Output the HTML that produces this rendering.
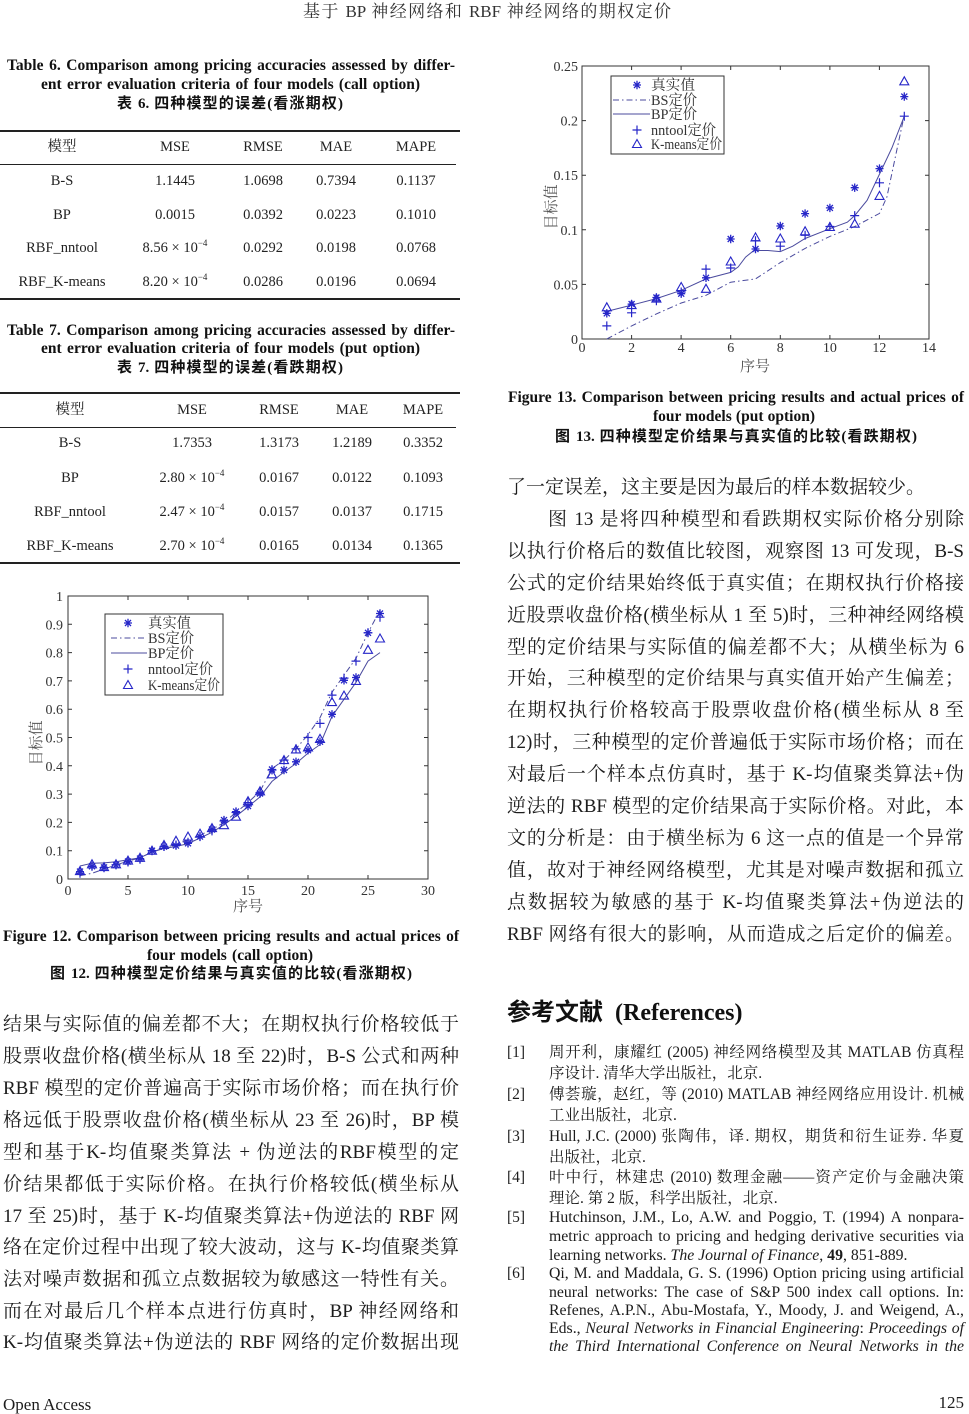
<!DOCTYPE html>
<html><head><meta charset="utf-8">
<style>
html,body{margin:0;padding:0;background:#fff;}
#pg{position:relative;width:969px;height:1414px;overflow:hidden;background:#fff;color:#1c1c1c;font-family:"Liberation Serif","Noto Serif CJK SC",serif;}
.a{position:absolute;}
.j{text-align:justify;text-align-last:justify;}
.ln{position:absolute;font-size:19px;line-height:32px;height:32px;text-align:justify;text-align-last:justify;}
.cap{position:absolute;font-family:"Liberation Serif","Noto Sans CJK SC",serif;font-weight:bold;font-size:15.5px;line-height:18px;text-align:justify;text-align-last:justify;color:#111;}
.capc{position:absolute;font-family:"Liberation Serif","Noto Sans CJK SC",sans-serif;font-weight:bold;font-size:15px;line-height:18px;text-align:justify;text-align-last:justify;color:#111;}
.c{position:absolute;width:140px;text-align:center;font-size:14.5px;line-height:20px;height:20px;color:#222;}
.rule{position:absolute;left:0;width:460px;background:#222;}
.rn{position:absolute;left:507px;font-size:15.5px;line-height:20px;}
.rt{position:absolute;left:549px;width:415px;font-size:15.5px;line-height:20px;text-align:justify;text-align-last:justify;}
.rte{font-size:15.8px;}
.nl{text-align-last:left;}
sup{font-size:9px;vertical-align:6px;line-height:0;}
</style></head><body><div id="pg">

<svg class="a" style="left:0;top:0" width="969" height="1414" viewBox="0 0 969 1414" xmlns="http://www.w3.org/2000/svg">
<defs>
<g id="st"><path d="M-4,0H4M0,-4.2V4.2M-3,-3L3,3M-3,3L3,-3" stroke="#2626c8" stroke-width="1.3" fill="none"/></g>
<g id="pl"><path d="M-4.5,0H4.5M0,-4.5V4.5" stroke="#2626c8" stroke-width="1.2" fill="none"/></g>
<g id="tr"><path d="M0,-4.5L4.5,3.5H-4.5Z" stroke="#2626c8" stroke-width="1.1" fill="none"/></g>
</defs>

<!-- ===== Figure 12 ===== -->
<g stroke="#333" stroke-width="1" fill="none">
<rect x="68" y="596" width="360" height="283"/>
<path d="M128,879V875M188,879V875M248,879V875M308,879V875M368,879V875
M128,596V600M188,596V600M248,596V600M308,596V600M368,596V600
M68,850.7H72M68,822.4H72M68,794.1H72M68,765.8H72M68,737.5H72M68,709.2H72M68,680.9H72M68,652.6H72M68,624.3H72
M428,850.7H424M428,822.4H424M428,794.1H424M428,765.8H424M428,737.5H424M428,709.2H424M428,680.9H424M428,652.6H424M428,624.3H424"/>
</g>
<g font-family="Liberation Serif, serif" font-size="14" fill="#333" text-anchor="end">
<text x="63" y="884">0</text><text x="63" y="855.7">0.1</text><text x="63" y="827.4">0.2</text><text x="63" y="799.1">0.3</text><text x="63" y="770.8">0.4</text><text x="63" y="742.5">0.5</text><text x="63" y="714.2">0.6</text><text x="63" y="685.9">0.7</text><text x="63" y="657.6">0.8</text><text x="63" y="629.3">0.9</text><text x="63" y="601">1</text>
</g>
<g font-family="Liberation Serif, serif" font-size="14" fill="#333" text-anchor="middle">
<text x="68" y="895">0</text><text x="128" y="895">5</text><text x="188" y="895">10</text><text x="248" y="895">15</text><text x="308" y="895">20</text><text x="368" y="895">25</text><text x="428" y="895">30</text>
</g>
<text x="248" y="911" font-family="Noto Serif CJK SC, serif" font-size="15" fill="#555" text-anchor="middle">序号</text>
<text transform="translate(41,743) rotate(-90)" font-family="Noto Serif CJK SC, serif" font-size="15" fill="#555" text-anchor="middle">目标值</text>

<polyline fill="none" stroke="#4b4b9e" stroke-width="1" stroke-dasharray="6,3,1.5,3" points="80,875.6 92,873.3 104,869.1 116,864.9 128,861.2 140,857.8 152,852.1 164,847.9 176,844.2 188,840.0 200,835.1 212,829.5 224,822.4 236,812.5 248,802.6 260,791.3 272,768.6 284,760.1 296,748.8 308,734.7 320,717.7 332,692.2 344,675.2 356,658.3 368,632.8 380,610.2"/>
<polyline fill="none" stroke="#4b4b9e" stroke-width="1" points="80,866.0 92,863.2 104,862.9 116,861.7 128,859.8 140,857.8 152,852.1 164,848.4 176,846.5 188,843.6 200,838.0 212,832.3 224,824.7 236,816.2 248,806.8 260,796.9 272,781.4 284,772.0 296,763.5 308,753.1 320,744.6 332,716.3 344,699.3 356,682.3 368,661.1 380,652.6"/>
<g>
<use href="#st" x="80" y="871.6"/><use href="#st" x="92" y="866.3"/><use href="#st" x="104" y="867.4"/><use href="#st" x="116" y="864.9"/><use href="#st" x="128" y="861.5"/><use href="#st" x="140" y="858.6"/><use href="#st" x="152" y="850.7"/><use href="#st" x="164" y="846.7"/><use href="#st" x="176" y="845.6"/><use href="#st" x="188" y="843.3"/><use href="#st" x="200" y="836.6"/><use href="#st" x="212" y="829.5"/><use href="#st" x="224" y="820.1"/><use href="#st" x="236" y="811.6"/><use href="#st" x="248" y="806.0"/><use href="#st" x="260" y="793.5"/><use href="#st" x="272" y="769.5"/><use href="#st" x="284" y="770.0"/><use href="#st" x="296" y="761.8"/><use href="#st" x="308" y="750.2"/><use href="#st" x="320" y="741.7"/><use href="#st" x="332" y="714.3"/><use href="#st" x="344" y="680.3"/><use href="#st" x="356" y="677.5"/><use href="#st" x="368" y="632.8"/><use href="#st" x="380" y="613.5"/>
<use href="#pl" x="80" y="873.3"/><use href="#pl" x="92" y="866.3"/><use href="#pl" x="104" y="867.7"/><use href="#pl" x="116" y="864.9"/><use href="#pl" x="128" y="862.0"/><use href="#pl" x="140" y="859.2"/><use href="#pl" x="152" y="850.7"/><use href="#pl" x="164" y="846.5"/><use href="#pl" x="176" y="845.0"/><use href="#pl" x="188" y="842.2"/><use href="#pl" x="200" y="836.6"/><use href="#pl" x="212" y="830.9"/><use href="#pl" x="224" y="821.0"/><use href="#pl" x="236" y="812.5"/><use href="#pl" x="248" y="802.6"/><use href="#pl" x="260" y="792.7"/><use href="#pl" x="272" y="770.0"/><use href="#pl" x="284" y="760.1"/><use href="#pl" x="296" y="748.8"/><use href="#pl" x="308" y="737.5"/><use href="#pl" x="320" y="723.4"/><use href="#pl" x="332" y="695.1"/><use href="#pl" x="344" y="678.1"/><use href="#pl" x="356" y="661.1"/><use href="#pl" x="368" y="632.8"/><use href="#pl" x="380" y="617.2"/>
<use href="#tr" x="80" y="871.1"/><use href="#tr" x="92" y="864.3"/><use href="#tr" x="104" y="867.1"/><use href="#tr" x="116" y="864.3"/><use href="#tr" x="128" y="860.6"/><use href="#tr" x="140" y="857.8"/><use href="#tr" x="152" y="850.7"/><use href="#tr" x="164" y="845.0"/><use href="#tr" x="176" y="840.8"/><use href="#tr" x="188" y="836.6"/><use href="#tr" x="200" y="833.7"/><use href="#tr" x="212" y="828.1"/><use href="#tr" x="224" y="825.2"/><use href="#tr" x="236" y="816.7"/><use href="#tr" x="248" y="801.2"/><use href="#tr" x="260" y="791.3"/><use href="#tr" x="272" y="774.3"/><use href="#tr" x="284" y="760.1"/><use href="#tr" x="296" y="749.4"/><use href="#tr" x="308" y="747.4"/><use href="#tr" x="320" y="738.9"/><use href="#tr" x="332" y="702.1"/><use href="#tr" x="344" y="695.6"/><use href="#tr" x="356" y="680.9"/><use href="#tr" x="368" y="649.8"/><use href="#tr" x="380" y="638.5"/>
</g>
<!-- legend 12 -->
<rect x="105" y="614" width="118" height="81" fill="#fff" stroke="#333" stroke-width="1"/>
<use href="#st" x="128" y="623"/>
<line x1="111" y1="638" x2="147" y2="638" stroke="#4b4b9e" stroke-dasharray="6,3,1.5,3"/>
<line x1="111" y1="653" x2="147" y2="653" stroke="#4b4b9e"/>
<use href="#pl" x="128" y="669"/>
<use href="#tr" x="128" y="685"/>
<g font-family="Liberation Serif, Noto Serif CJK SC, serif" font-size="14.5" fill="#333">
<text x="148" y="628" textLength="43" lengthAdjust="spacingAndGlyphs">真实值</text>
<text x="148" y="643" textLength="46" lengthAdjust="spacingAndGlyphs">BS定价</text>
<text x="148" y="658" textLength="46" lengthAdjust="spacingAndGlyphs">BP定价</text>
<text x="148" y="674" textLength="65" lengthAdjust="spacingAndGlyphs">nntool定价</text>
<text x="148" y="690" textLength="72" lengthAdjust="spacingAndGlyphs">K-means定价</text>
</g>

<!-- ===== Figure 13 ===== -->
<g stroke="#333" stroke-width="1" fill="none">
<rect x="582" y="66" width="347" height="273"/>
<path d="M631.6,339V335M681.1,339V335M730.7,339V335M780.3,339V335M829.9,339V335M879.4,339V335
M631.6,66V70M681.1,66V70M730.7,66V70M780.3,66V70M829.9,66V70M879.4,66V70
M582,284.4H586M582,229.8H586M582,175.2H586M582,120.6H586
M929,284.4H925M929,229.8H925M929,175.2H925M929,120.6H925"/>
</g>
<g font-family="Liberation Serif, serif" font-size="14" fill="#333" text-anchor="end">
<text x="578" y="344">0</text><text x="578" y="289.4">0.05</text><text x="578" y="234.8">0.1</text><text x="578" y="180.2">0.15</text><text x="578" y="125.6">0.2</text><text x="578" y="71">0.25</text>
</g>
<g font-family="Liberation Serif, serif" font-size="14" fill="#333" text-anchor="middle">
<text x="582" y="352">0</text><text x="631.6" y="352">2</text><text x="681.1" y="352">4</text><text x="730.7" y="352">6</text><text x="780.3" y="352">8</text><text x="829.9" y="352">10</text><text x="879.4" y="352">12</text><text x="929" y="352">14</text>
</g>
<text x="755" y="371" font-family="Noto Serif CJK SC, serif" font-size="15" fill="#555" text-anchor="middle">序号</text>
<text transform="translate(556,207) rotate(-90)" font-family="Noto Serif CJK SC, serif" font-size="15" fill="#555" text-anchor="middle">目标值</text>

<polyline fill="none" stroke="#4b4b9e" stroke-width="1" stroke-dasharray="6,3,1.5,3" points="606.8,339 631.6,325.9 656.4,313.9 681.2,303.0 706.0,295.3 730.7,282.2 755.5,278.9 780.3,262.6 805.1,248.4 829.9,236.4 854.7,226.5 879.5,213.4 886.9,197.0 896.8,150.1 904.3,115.1"/>
<polyline fill="none" stroke="#4b4b9e" stroke-width="1" points="606.8,311.4 631.6,305.1 656.4,298.6 681.2,290.3 706.0,278.9 730.7,272.4 738.2,266.9 745.6,257.1 753.1,251.1 755.5,250.5 767.9,250.5 780.3,251.6 792.7,246.2 805.1,238.5 829.9,228.7 847.3,222.2 854.7,215.6 867.1,200.3 879.5,174.1 891.9,147.9 904.3,116.2"/>
<g>
<use href="#st" x="606.8" y="313.3"/><use href="#st" x="631.6" y="304.1"/><use href="#st" x="656.4" y="297.5"/><use href="#st" x="681.2" y="293.7"/><use href="#st" x="706.0" y="277.8"/><use href="#st" x="730.7" y="239.0"/><use href="#st" x="755.5" y="249.0"/><use href="#st" x="780.3" y="226.0"/><use href="#st" x="805.1" y="213.6"/><use href="#st" x="829.9" y="207.9"/><use href="#st" x="854.7" y="187.7"/><use href="#st" x="879.5" y="168.6"/><use href="#st" x="904.3" y="96.6"/>
<use href="#pl" x="606.8" y="325.9"/><use href="#pl" x="631.6" y="312.8"/><use href="#pl" x="656.4" y="300.8"/><use href="#pl" x="681.2" y="292.0"/><use href="#pl" x="706.0" y="269.1"/><use href="#pl" x="730.7" y="268.0"/><use href="#pl" x="755.5" y="240.7"/><use href="#pl" x="780.3" y="246.2"/><use href="#pl" x="805.1" y="235.3"/><use href="#pl" x="829.9" y="226.5"/><use href="#pl" x="854.7" y="215.6"/><use href="#pl" x="879.5" y="182.8"/><use href="#pl" x="904.3" y="116.2"/>
<use href="#tr" x="606.8" y="307.3"/><use href="#tr" x="631.6" y="305.1"/><use href="#tr" x="656.4" y="298.6"/><use href="#tr" x="681.2" y="287.0"/><use href="#tr" x="706.0" y="288.8"/><use href="#tr" x="730.7" y="261.5"/><use href="#tr" x="755.5" y="237.4"/><use href="#tr" x="780.3" y="238.5"/><use href="#tr" x="805.1" y="231.3"/><use href="#tr" x="829.9" y="227.0"/><use href="#tr" x="854.7" y="223.7"/><use href="#tr" x="879.5" y="195.9"/><use href="#tr" x="904.3" y="81.3"/>
</g>
<!-- legend 13 -->
<rect x="611" y="76" width="113" height="78" fill="#fff" stroke="#333" stroke-width="1"/>
<use href="#st" x="637" y="85"/>
<line x1="613" y1="100" x2="650" y2="100" stroke="#4b4b9e" stroke-dasharray="6,3,1.5,3"/>
<line x1="613" y1="114" x2="650" y2="114" stroke="#4b4b9e"/>
<use href="#pl" x="637" y="130"/>
<use href="#tr" x="637" y="144"/>
<g font-family="Liberation Serif, Noto Serif CJK SC, serif" font-size="14.5" fill="#333">
<text x="651" y="90" textLength="44" lengthAdjust="spacingAndGlyphs">真实值</text>
<text x="651" y="105" textLength="46" lengthAdjust="spacingAndGlyphs">BS定价</text>
<text x="651" y="119" textLength="46" lengthAdjust="spacingAndGlyphs">BP定价</text>
<text x="651" y="135" textLength="65" lengthAdjust="spacingAndGlyphs">nntool定价</text>
<text x="651" y="149" textLength="71" lengthAdjust="spacingAndGlyphs">K-means定价</text>
</g>
</svg>

<!-- header -->
<div class="a j" style="left:303px;top:2px;width:368px;font-size:17px;line-height:20px;color:#333;">基于 BP 神经网络和 RBF 神经网络的期权定价</div>

<!-- Table 6 caption -->
<div class="cap" style="left:7px;top:57px;width:448px;">Table 6. Comparison among pricing accuracies assessed by differ-</div>
<div class="cap" style="left:41px;top:76px;width:379px;">ent error evaluation criteria of four models (call option)</div>
<div class="capc" style="left:117px;top:95px;width:226px;">表 6. 四种模型的误差(看涨期权)</div>

<div class="rule" style="top:130px;height:1.5px;"></div>
<div class="rule" style="top:164px;height:1px;width:456px;"></div>
<div class="rule" style="top:298px;height:1.5px;"></div>

<div class="c" style="left:-8px;top:137px;">模型</div>
<div class="c" style="left:105px;top:137px;">MSE</div>
<div class="c" style="left:193px;top:137px;">RMSE</div>
<div class="c" style="left:266px;top:137px;">MAE</div>
<div class="c" style="left:346px;top:137px;">MAPE</div>

<div class="c" style="left:-8px;top:171px;">B-S</div>
<div class="c" style="left:105px;top:171px;">1.1445</div>
<div class="c" style="left:193px;top:171px;">1.0698</div>
<div class="c" style="left:266px;top:171px;">0.7394</div>
<div class="c" style="left:346px;top:171px;">0.1137</div>

<div class="c" style="left:-8px;top:205px;">BP</div>
<div class="c" style="left:105px;top:205px;">0.0015</div>
<div class="c" style="left:193px;top:205px;">0.0392</div>
<div class="c" style="left:266px;top:205px;">0.0223</div>
<div class="c" style="left:346px;top:205px;">0.1010</div>

<div class="c" style="left:-8px;top:238px;">RBF_nntool</div>
<div class="c" style="left:105px;top:238px;">8.56 × 10<sup>−4</sup></div>
<div class="c" style="left:193px;top:238px;">0.0292</div>
<div class="c" style="left:266px;top:238px;">0.0198</div>
<div class="c" style="left:346px;top:238px;">0.0768</div>

<div class="c" style="left:-8px;top:272px;">RBF_K-means</div>
<div class="c" style="left:105px;top:272px;">8.20 × 10<sup>−4</sup></div>
<div class="c" style="left:193px;top:272px;">0.0286</div>
<div class="c" style="left:266px;top:272px;">0.0196</div>
<div class="c" style="left:346px;top:272px;">0.0694</div>

<!-- Table 7 caption -->
<div class="cap" style="left:7px;top:322px;width:448px;">Table 7. Comparison among pricing accuracies assessed by differ-</div>
<div class="cap" style="left:41px;top:340px;width:379px;">ent error evaluation criteria of four models (put option)</div>
<div class="capc" style="left:117px;top:359px;width:226px;">表 7. 四种模型的误差(看跌期权)</div>

<div class="rule" style="top:392px;height:1.5px;"></div>
<div class="rule" style="top:427px;height:1px;width:456px;"></div>
<div class="rule" style="top:562px;height:1.5px;"></div>

<div class="c" style="left:0px;top:400px;">模型</div>
<div class="c" style="left:122px;top:400px;">MSE</div>
<div class="c" style="left:209px;top:400px;">RMSE</div>
<div class="c" style="left:282px;top:400px;">MAE</div>
<div class="c" style="left:353px;top:400px;">MAPE</div>

<div class="c" style="left:0px;top:433px;">B-S</div>
<div class="c" style="left:122px;top:433px;">1.7353</div>
<div class="c" style="left:209px;top:433px;">1.3173</div>
<div class="c" style="left:282px;top:433px;">1.2189</div>
<div class="c" style="left:353px;top:433px;">0.3352</div>

<div class="c" style="left:0px;top:468px;">BP</div>
<div class="c" style="left:122px;top:468px;">2.80 × 10<sup>−4</sup></div>
<div class="c" style="left:209px;top:468px;">0.0167</div>
<div class="c" style="left:282px;top:468px;">0.0122</div>
<div class="c" style="left:353px;top:468px;">0.1093</div>

<div class="c" style="left:0px;top:502px;">RBF_nntool</div>
<div class="c" style="left:122px;top:502px;">2.47 × 10<sup>−4</sup></div>
<div class="c" style="left:209px;top:502px;">0.0157</div>
<div class="c" style="left:282px;top:502px;">0.0137</div>
<div class="c" style="left:353px;top:502px;">0.1715</div>

<div class="c" style="left:0px;top:536px;">RBF_K-means</div>
<div class="c" style="left:122px;top:536px;">2.70 × 10<sup>−4</sup></div>
<div class="c" style="left:209px;top:536px;">0.0165</div>
<div class="c" style="left:282px;top:536px;">0.0134</div>
<div class="c" style="left:353px;top:536px;">0.1365</div>

<!-- Figure 12 caption -->
<div class="cap" style="left:3px;top:928px;width:456px;">Figure 12. Comparison between pricing results and actual prices of</div>
<div class="cap" style="left:147px;top:947px;width:166px;">four models (call option)</div>
<div class="capc" style="left:50px;top:965px;width:362px;">图 12. 四种模型定价结果与真实值的比较(看涨期权)</div>

<!-- Figure 13 caption -->
<div class="cap" style="left:508px;top:389px;width:456px;">Figure 13. Comparison between pricing results and actual prices of</div>
<div class="cap" style="left:653px;top:408px;width:162px;">four models (put option)</div>
<div class="capc" style="left:555px;top:428px;width:362px;">图 13. 四种模型定价结果与真实值的比较(看跌期权)</div>

<!-- Left column body -->
<div class="ln" style="left:3px;top:1009px;width:456px;">结果与实际值的偏差都不大；在期权执行价格较低于</div>
<div class="ln" style="left:3px;top:1041px;width:456px;">股票收盘价格(横坐标从 18 至 22)时，B-S 公式和两种</div>
<div class="ln" style="left:3px;top:1073px;width:456px;">RBF 模型的定价普遍高于实际市场价格；而在执行价</div>
<div class="ln" style="left:3px;top:1105px;width:456px;">格远低于股票收盘价格(横坐标从 23 至 26)时，BP 模</div>
<div class="ln" style="left:3px;top:1137px;width:456px;">型和基于K-均值聚类算法 + 伪逆法的RBF模型的定</div>
<div class="ln" style="left:3px;top:1169px;width:456px;">价结果都低于实际价格。在执行价格较低(横坐标从</div>
<div class="ln" style="left:3px;top:1201px;width:456px;">17 至 25)时，基于 K-均值聚类算法+伪逆法的 RBF 网</div>
<div class="ln" style="left:3px;top:1232px;width:456px;">络在定价过程中出现了较大波动，这与 K-均值聚类算</div>
<div class="ln" style="left:3px;top:1264px;width:456px;">法对噪声数据和孤立点数据较为敏感这一特性有关。</div>
<div class="ln" style="left:3px;top:1296px;width:456px;">而在对最后几个样本点进行仿真时，BP 神经网络和</div>
<div class="ln" style="left:3px;top:1327px;width:456px;">K-均值聚类算法+伪逆法的 RBF 网络的定价数据出现</div>

<!-- Right column body -->
<div class="ln" style="left:507px;top:472px;width:457px;text-align:left;text-align-last:left;">了一定误差，这主要是因为最后的样本数据较少。</div>
<div class="ln" style="left:548px;top:504px;width:416px;">图 13 是将四种模型和看跌期权实际价格分别除</div>
<div class="ln" style="left:507px;top:536px;width:457px;">以执行价格后的数值比较图，观察图 13 可发现，B-S</div>
<div class="ln" style="left:507px;top:568px;width:457px;">公式的定价结果始终低于真实值；在期权执行价格接</div>
<div class="ln" style="left:507px;top:600px;width:457px;">近股票收盘价格(横坐标从 1 至 5)时，三种神经网络模</div>
<div class="ln" style="left:507px;top:632px;width:457px;">型的定价结果与实际值的偏差都不大；从横坐标为 6</div>
<div class="ln" style="left:507px;top:663px;width:457px;">开始，三种模型的定价结果与真实值开始产生偏差；</div>
<div class="ln" style="left:507px;top:695px;width:457px;">在期权执行价格较高于股票收盘价格(横坐标从 8 至</div>
<div class="ln" style="left:507px;top:727px;width:457px;">12)时，三种模型的定价普遍低于实际市场价格；而在</div>
<div class="ln" style="left:507px;top:759px;width:457px;">对最后一个样本点仿真时，基于 K-均值聚类算法+伪</div>
<div class="ln" style="left:507px;top:791px;width:457px;">逆法的 RBF 模型的定价结果高于实际价格。对此，本</div>
<div class="ln" style="left:507px;top:823px;width:457px;">文的分析是：由于横坐标为 6 这一点的值是一个异常</div>
<div class="ln" style="left:507px;top:855px;width:457px;">值，故对于神经网络模型，尤其是对噪声数据和孤立</div>
<div class="ln" style="left:507px;top:887px;width:457px;">点数据较为敏感的基于 K-均值聚类算法+伪逆法的</div>
<div class="ln" style="left:507px;top:919px;width:457px;">RBF 网络有很大的影响，从而造成之后定价的偏差。</div>

<!-- References -->
<div class="a" style="left:507px;top:998px;font-family:'Liberation Serif','Noto Sans CJK SC',sans-serif;font-weight:bold;font-size:24px;line-height:30px;color:#111;white-space:nowrap;">参考文献&nbsp; (References)</div>

<div class="rn" style="top:1043px;">[1]</div>
<div class="rt" style="top:1043px;">周开利，康耀红 (2005) 神经网络模型及其 MATLAB 仿真程</div>
<div class="rt nl" style="top:1064px;">序设计. 清华大学出版社，北京.</div>

<div class="rn" style="top:1085px;">[2]</div>
<div class="rt" style="top:1085px;">傅荟璇，赵红，等 (2010) MATLAB 神经网络应用设计. 机械</div>
<div class="rt nl" style="top:1106px;">工业出版社，北京.</div>

<div class="rn" style="top:1127px;">[3]</div>
<div class="rt" style="top:1127px;">Hull, J.C. (2000) 张陶伟，译. 期权，期货和衍生证券. 华夏</div>
<div class="rt nl" style="top:1148px;">出版社，北京.</div>

<div class="rn" style="top:1168px;">[4]</div>
<div class="rt" style="top:1168px;">叶中行，林建忠 (2010) 数理金融——资产定价与金融决策</div>
<div class="rt nl" style="top:1189px;">理论. 第 2 版，科学出版社，北京.</div>

<div class="rn" style="top:1208px;">[5]</div>
<div class="rt rte" style="top:1208px;">Hutchinson, J.M., Lo, A.W. and Poggio, T. (1994) A nonpara-</div>
<div class="rt rte" style="top:1227px;">metric approach to pricing and hedging derivative securities via</div>
<div class="rt rte nl" style="top:1246px;">learning networks. <i>The Journal of Finance</i>, <b>49</b>, 851-889.</div>

<div class="rn" style="top:1264px;">[6]</div>
<div class="rt rte" style="top:1264px;">Qi, M. and Maddala, G. S. (1996) Option pricing using artificial</div>
<div class="rt rte" style="top:1283px;">neural networks: The case of S&amp;P 500 index call options. In:</div>
<div class="rt rte" style="top:1301px;">Refenes, A.P.N., Abu-Mostafa, Y., Moody, J. and Weigend, A.,</div>
<div class="rt rte" style="top:1319px;">Eds., <i>Neural Networks in Financial Engineering</i>: <i>Proceedings of</i></div>
<div class="rt rte" style="top:1337px;"><i>the Third International Conference on Neural Networks in the</i></div>

<!-- footer -->
<div class="a" style="left:3px;top:1395px;font-size:17px;line-height:20px;">Open Access</div>
<div class="a" style="left:930px;top:1393px;width:34px;text-align:right;font-size:17px;line-height:20px;">125</div>

</div></body></html>
